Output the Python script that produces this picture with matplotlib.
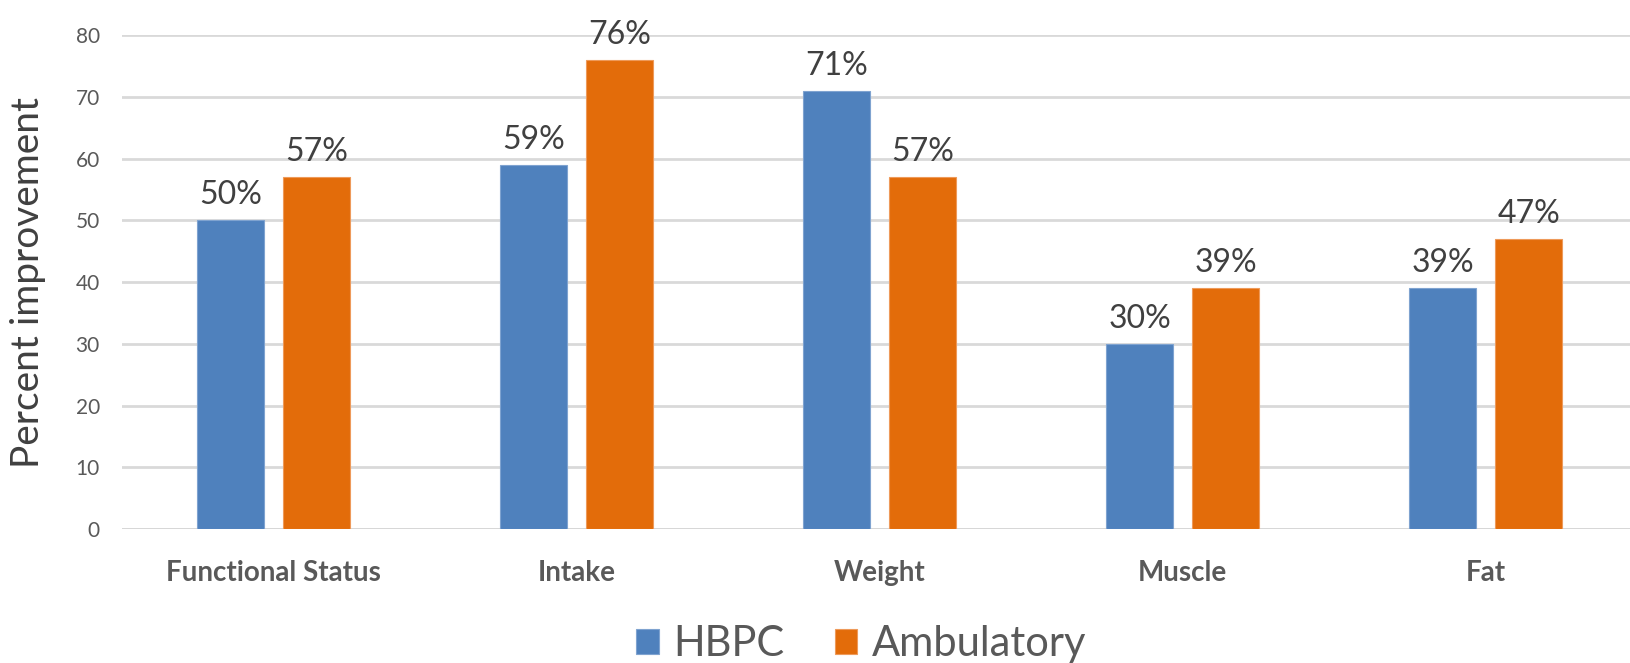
import numpy as np
import matplotlib.pyplot as plt

categories = ['Functional Status', 'Intake', 'Weight', 'Muscle', 'Fat']
hbpc = [50, 59, 71, 30, 39]
ambulatory = [57, 76, 57, 39, 47]

blue = '#4F81BD'
orange = '#E36C0A'
grey = '#595959'

plt.rcParams['font.family'] = ['Lato', 'DejaVu Sans']

fig = plt.figure(figsize=(16.31, 6.63), dpi=100)
ax = fig.add_axes([0.0748, 0.2021, 0.929, 0.7451])

x = np.arange(len(categories))
w = 0.221
off = 0.142
b1 = ax.bar(x - off, hbpc, w, color=blue, edgecolor='#7FA3D0', linewidth=0.8,
            label='HBPC', zorder=3)
b2 = ax.bar(x + off, ambulatory, w, color=orange, edgecolor='#EE9A5A', linewidth=0.8,
            label='Ambulatory', zorder=3)

for bars, vals in ((b1, hbpc), (b2, ambulatory)):
    for b, v in zip(bars, vals):
        ax.text(b.get_x() + b.get_width() / 2, v + 1.6, f'{v}%', ha='center',
                va='bottom', fontsize=23, color='#404040')

ax.set_xlim(-0.5, len(categories) - 0.5)
ax.set_ylim(0, 80)
ax.set_yticks(range(0, 81, 10))
ax.set_xticks(x)
ax.set_xticklabels(categories, fontsize=20, fontweight='bold', color=grey)
ax.tick_params(axis='y', length=0, pad=16, labelsize=15, labelcolor=grey)
ax.tick_params(axis='x', length=0, pad=22)
ax.yaxis.grid(True, color='#D9D9D9', linewidth=2, zorder=0)
for s in ax.spines.values():
    s.set_visible(False)
# baseline a little darker than the grid
ax.axhline(0, color='#C8C8C8', linewidth=2, zorder=1)

ax.set_ylabel('Percent improvement', fontsize=28, color='#404040', labelpad=18)
ax.yaxis.set_label_coords(-0.05, 0.5)

fig.legend(loc='center', bbox_to_anchor=(0.528, 0.028), ncol=2, frameon=False,
           fontsize=30, handlelength=0.55, handleheight=0.55, handletextpad=0.35,
           columnspacing=1.2, labelcolor=grey)

fig.savefig('out.png', dpi=100)
